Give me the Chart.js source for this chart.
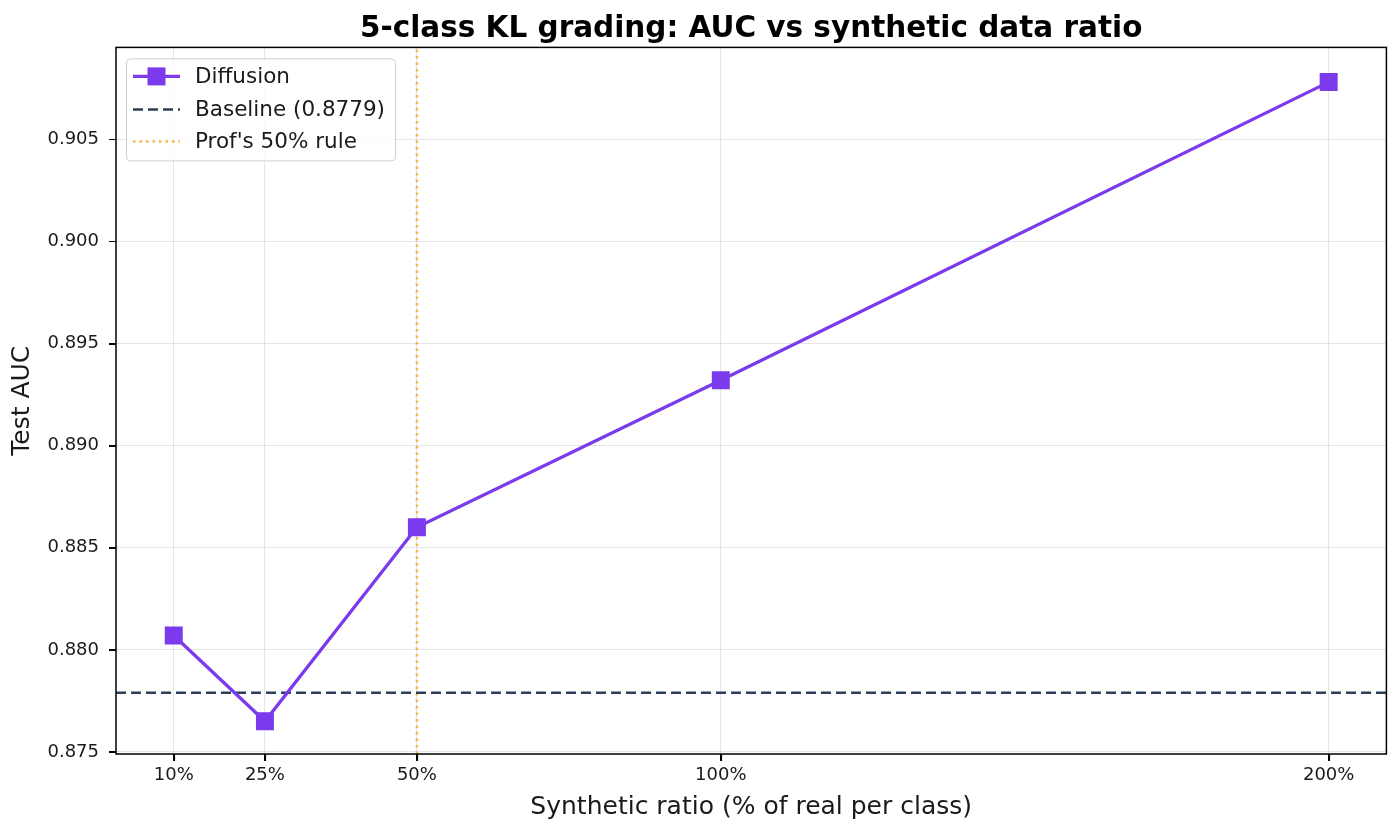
<!DOCTYPE html>
<html>
<head>
<meta charset="utf-8">
<script src="https://cdn.jsdelivr.net/npm/chart.js@4.4.1/dist/chart.umd.min.js"></script>
<style>
  html, body { margin: 0; padding: 0; background: #fff; }
  #wrap { width: 1400px; height: 834px; position: relative; }
</style>
</head>
<body>
<div id="wrap"><canvas id="chart"></canvas></div>
<script>
// values
const ratios = [10, 25, 50, 100, 200];
const aucValues = [0.8807, 0.8765, 0.8860, 0.8932, 0.9078];
const baselineAuc = 0.8779;
const ruleRatio = 50;
const xTicks = [10, 25, 50, 100, 200];
const yTicks = [0.875, 0.880, 0.885, 0.890, 0.895, 0.900, 0.905];

const X_MIN = 0.5, X_MAX = 209.5;
const Y_MIN = 0.8749, Y_MAX = 0.9095;

const PURPLE = "#7c3aed";
const NAVY = "#2c3e5a";
const ORANGE = "rgba(245,166,35,0.8)";
const FONT = "'DejaVu Sans', sans-serif";

// center the title over the plot area, not the whole canvas
const titleOverPlot = {
    id: "titleOverPlot",
    afterLayout(chart){
        const t = chart.titleBlock;
        if (t) { t.left = chart.chartArea.left; t.right = chart.chartArea.right; }
    }
};

// black frame round the plot and outward tick marks, like matplotlib spines
const frame = {
    id: "frame",
    afterDatasetsDraw(chart){
        const a = chart.chartArea;
        const ctx = chart.ctx;
        const xs = chart.scales.x, ys = chart.scales.y;
        ctx.save();
        ctx.strokeStyle = "#000";
        ctx.lineWidth = 1.5;
        ctx.strokeRect(a.left, a.top, a.right - a.left, a.bottom - a.top);
        ctx.lineWidth = 1.2;
        ctx.beginPath();
        xTicks.forEach(v => {
            const px = Math.round(xs.getPixelForValue(v)) + 0.5;
            ctx.moveTo(px, a.bottom); ctx.lineTo(px, a.bottom + 7);
        });
        yTicks.forEach(v => {
            const py = Math.round(ys.getPixelForValue(v)) + 0.5;
            ctx.moveTo(a.left, py); ctx.lineTo(a.left - 7, py);
        });
        ctx.stroke();
        ctx.restore();
    }
};

// legend box in the upper left corner
const boxLegend = {
    id: "boxLegend",
    afterDraw(chart){
        const ctx = chart.ctx;
        const a = chart.chartArea;
        const x = a.left + 10, y = a.top + 11;
        const w = 269, h = 102;
        ctx.save();
        ctx.fillStyle = "rgba(255,255,255,0.8)";
        ctx.strokeStyle = "#d0d0d0";
        ctx.lineWidth = 1;
        ctx.beginPath();
        ctx.roundRect(x + 0.5, y + 0.5, w, h, 4);
        ctx.fill();
        ctx.stroke();

        const hx1 = x + 7, hx2 = x + 54, tx = x + 69;
        const rows = [y + 18, y + 51, y + 83];

        ctx.lineWidth = 3.3;
        ctx.strokeStyle = PURPLE;
        ctx.beginPath(); ctx.moveTo(hx1, rows[0]); ctx.lineTo(hx2, rows[0]); ctx.stroke();
        ctx.fillStyle = PURPLE;
        ctx.fillRect((hx1 + hx2) / 2 - 9, rows[0] - 9, 18, 18);

        ctx.lineWidth = 2.5;
        ctx.strokeStyle = NAVY;
        ctx.setLineDash([10, 5]);
        ctx.beginPath(); ctx.moveTo(hx1, rows[1]); ctx.lineTo(hx2, rows[1]); ctx.stroke();

        ctx.strokeStyle = ORANGE;
        ctx.setLineDash([2.5, 4]);
        ctx.beginPath(); ctx.moveTo(hx1, rows[2]); ctx.lineTo(hx2, rows[2]); ctx.stroke();
        ctx.setLineDash([]);

        ctx.fillStyle = "#1a1a1a";
        ctx.font = "21.5px " + FONT;
        ctx.textBaseline = "middle";
        const labels = chart.data.datasets.map(d => d.label);
        labels.forEach((t, i) => ctx.fillText(t, tx, rows[i] + 1));
        ctx.restore();
    }
};

new Chart(document.getElementById("chart"), {
    type: "scatter",
    data: {
        datasets: [
            {
                label: "Diffusion",
                data: ratios.map((r, i) => ({ x: r, y: aucValues[i] })),
                showLine: true,
                borderColor: PURPLE,
                backgroundColor: PURPLE,
                borderWidth: 3.3,
                pointStyle: "rect",
                pointRadius: 10.6,
                pointHoverRadius: 10.6,
                pointBorderWidth: 3,
                order: 1
            },
            {
                label: "Baseline (" + baselineAuc.toFixed(4) + ")",
                data: [{ x: X_MIN, y: baselineAuc }, { x: X_MAX, y: baselineAuc }],
                showLine: true,
                borderColor: NAVY,
                borderWidth: 2.5,
                borderDash: [10, 5],
                pointRadius: 0,
                order: 2
            },
            {
                label: "Prof's " + ruleRatio + "% rule",
                data: [{ x: ruleRatio, y: Y_MIN }, { x: ruleRatio, y: Y_MAX }],
                showLine: true,
                borderColor: ORANGE,
                borderWidth: 2.5,
                borderDash: [2.5, 4],
                pointRadius: 0,
                order: 3
            }
        ]
    },
    options: {
        responsive: true,
        maintainAspectRatio: false,
        animation: false,
        layout: { padding: { left: 0, right: 12, top: 0, bottom: 0 } },
        plugins: {
            legend: { display: false },
            tooltip: { enabled: false },
            title: {
                display: true,
                text: "5-class KL grading: AUC vs synthetic data ratio",
                color: "#000",
                font: { family: FONT, size: 29.5, weight: "bold" },
                padding: { top: 12, bottom: 0 }
            }
        },
        scales: {
            x: {
                type: "linear",
                min: X_MIN,
                max: X_MAX,
                afterBuildTicks(scale){ scale.ticks = xTicks.map(v => ({ value: v })); },
                afterFit(scale){ scale.height = 80; },
                ticks: {
                    color: "#1a1a1a",
                    font: { family: FONT, size: 18 },
                    padding: 4,
                    maxRotation: 0,
                    callback: v => v + "%"
                },
                grid: {
                    color: "rgba(0,0,0,0.1)",
                    tickColor: "#000",
                    tickLength: 7
                },
                border: { display: false },
                title: {
                    display: true,
                    text: "Synthetic ratio (% of real per class)",
                    color: "#1a1a1a",
                    font: { family: FONT, size: 25 },
                    padding: { top: 4, bottom: 12 }
                }
            },
            y: {
                min: Y_MIN,
                max: Y_MAX,
                afterBuildTicks(scale){ scale.ticks = yTicks.map(v => ({ value: v })); },
                afterFit(scale){ scale.width = 116; },
                ticks: {
                    color: "#1a1a1a",
                    font: { family: FONT, size: 18 },
                    padding: 10,
                    callback: v => v.toFixed(3)
                },
                grid: {
                    color: "rgba(0,0,0,0.1)",
                    tickColor: "#000",
                    tickLength: 7
                },
                border: { display: false },
                title: {
                    display: true,
                    text: "Test AUC",
                    color: "#1a1a1a",
                    font: { family: FONT, size: 25 },
                    padding: { top: 7, bottom: 0 }
                }
            }
        }
    },
    plugins: [titleOverPlot, frame, boxLegend]
});
</script>
</body>
</html>
